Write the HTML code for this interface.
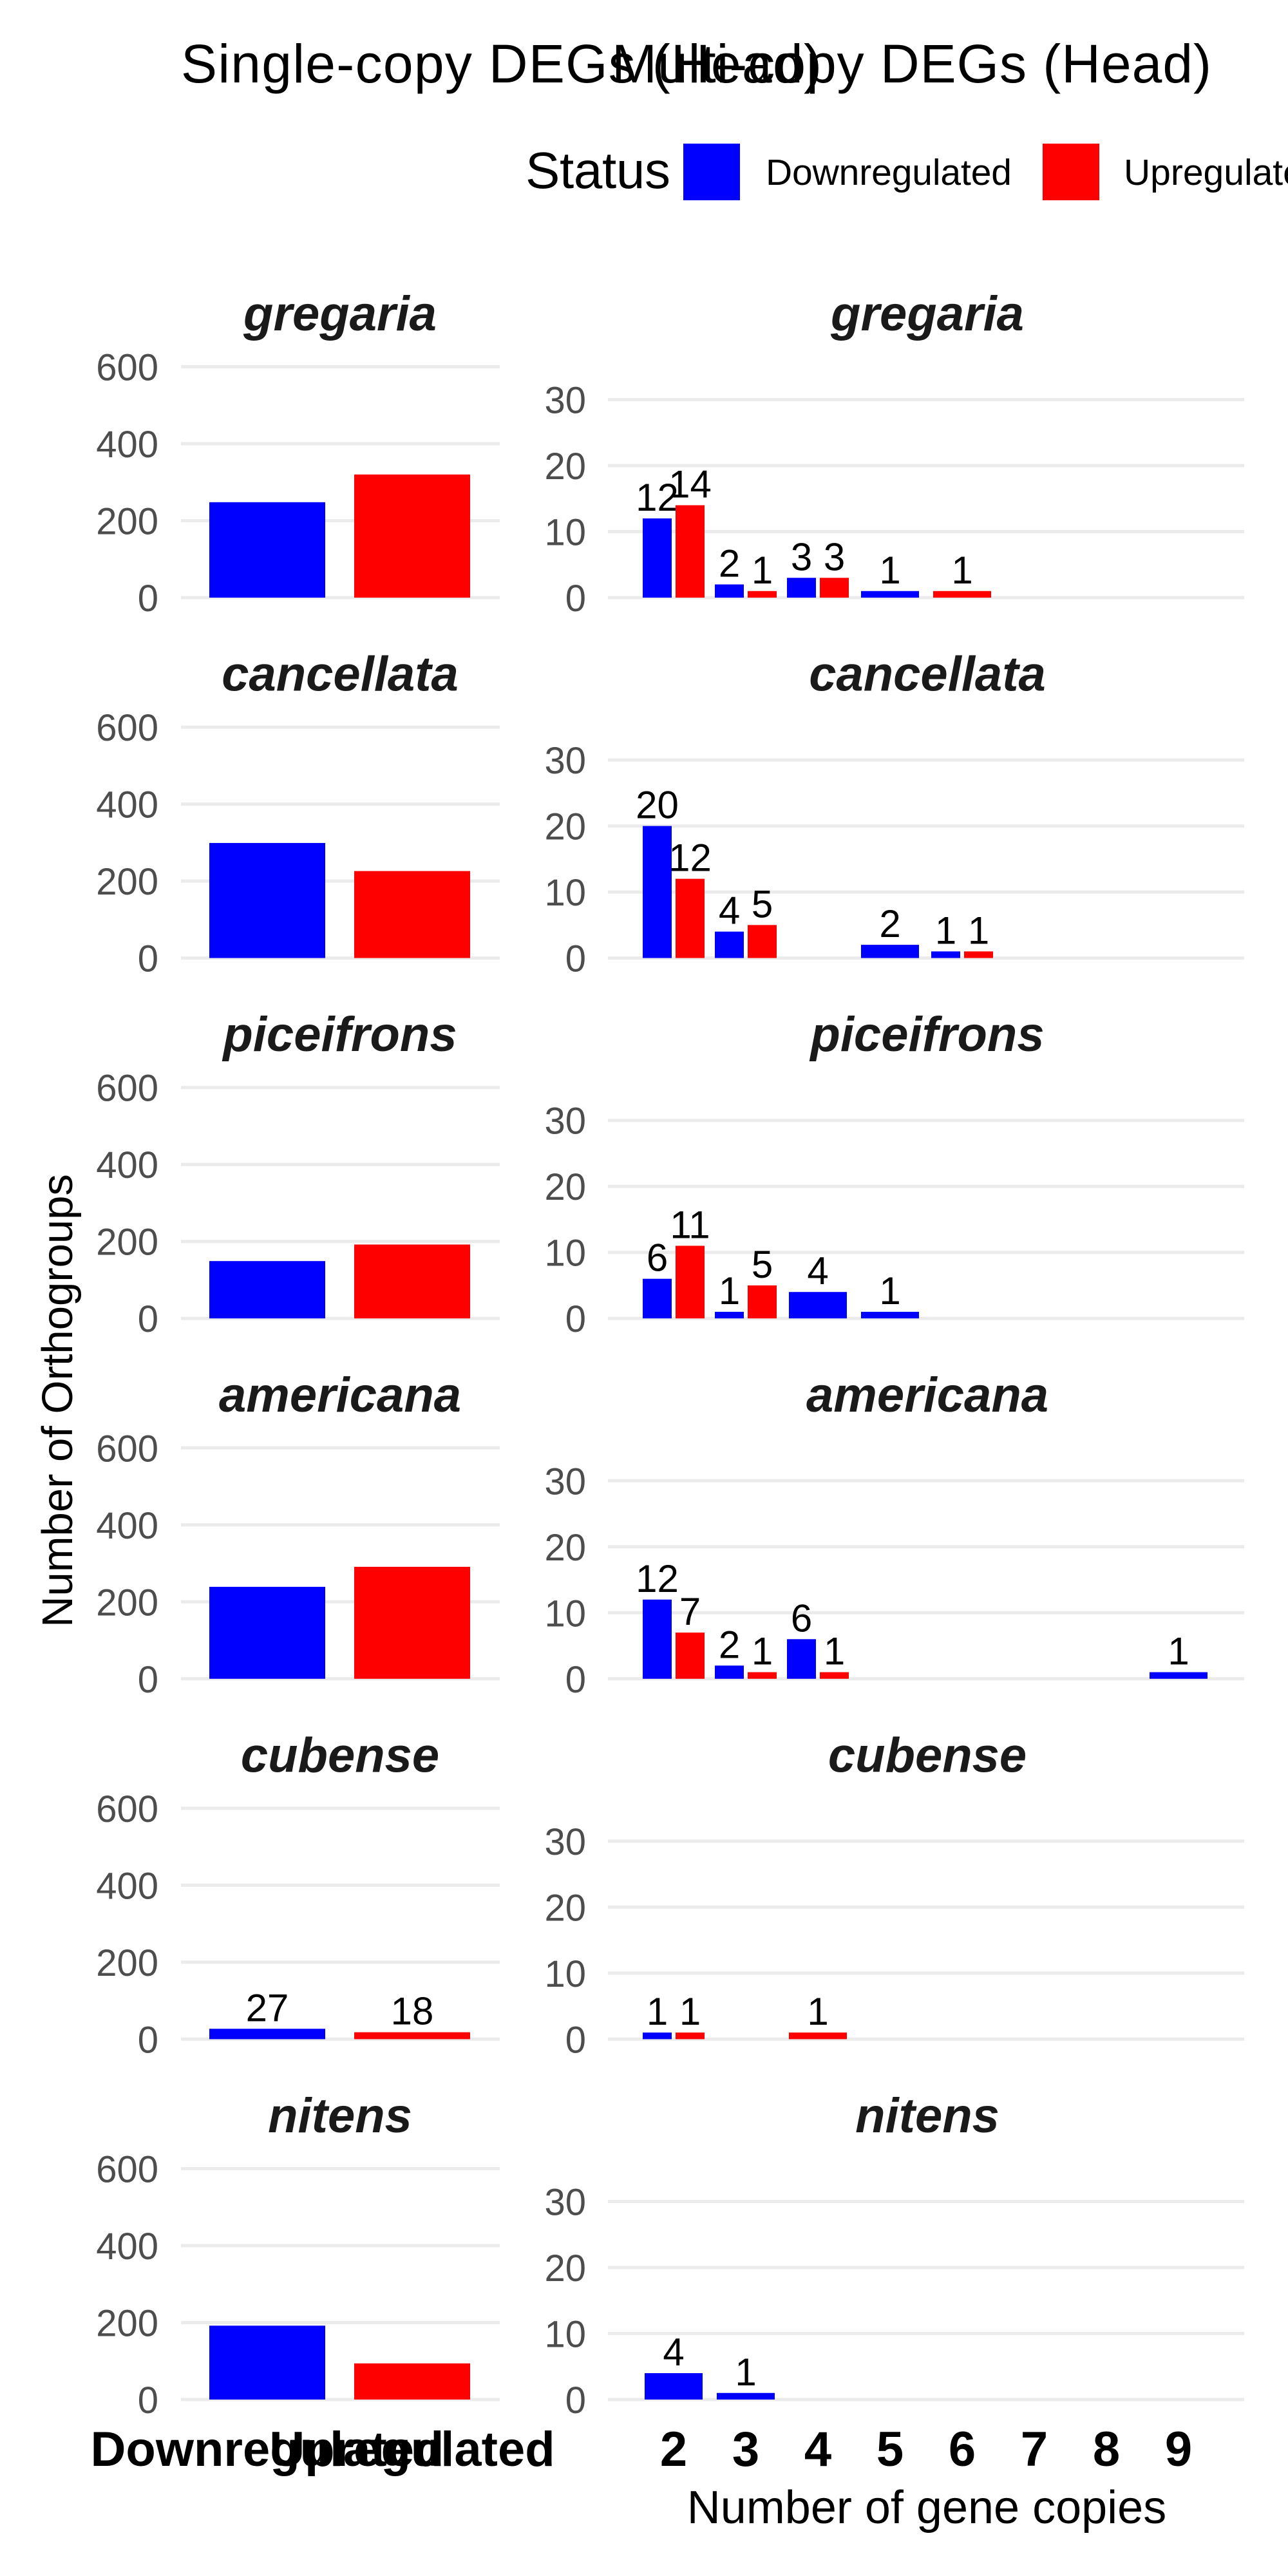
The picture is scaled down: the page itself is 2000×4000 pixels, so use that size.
<!DOCTYPE html>
<html><head><meta charset="utf-8"><style>
html,body{margin:0;padding:0;background:#fff;}
svg{display:block;font-family:"Liberation Sans",Arial,sans-serif;}
</style></head><body>
<svg id="chart" width="2000" height="4000" viewBox="0 0 2000 4000">
<text x="281" y="128" font-size="84" fill="#000" textLength="995">Single-copy DEGs (Head)</text>
<text x="950" y="128" font-size="84" fill="#000" textLength="931">Multi-copy DEGs (Head)</text>
<g>
<text x="816" y="292" font-size="80" fill="#000" textLength="225">Status</text>
<rect x="1061" y="223" width="88" height="88" fill="#0000ff"/>
<text x="1189" y="287" font-size="57" fill="#000" textLength="382">Downregulated</text>
<rect x="1619" y="223" width="88" height="88" fill="#ff0000"/>
<text x="1745" y="287" font-size="57" fill="#000">Upregulated</text>
</g>
<text transform="translate(112,2175) rotate(-90)" font-size="67" text-anchor="middle" fill="#000">Number of Orthogroups</text>
<text x="1439" y="3918" font-size="72" text-anchor="middle" fill="#000">Number of gene copies</text>
<g id="panels"></g>
</svg>
<script>
const species = ["gregaria","cancellata","piceifrons","americana","cubense","nitens"];
const singleDown = [248, 299, 149, 239, 27, 192];
const singleUp = [320, 226, 192, 291, 18, 94];
const singleLabelled = [false, false, false, false, true, false];
const copyCats = [2,3,4,5,6,7,8,9];
const multiDown = [
  {2:12,3:2,4:3,5:1},
  {2:20,3:4,5:2,6:1},
  {2:6,3:1,4:4,5:1},
  {2:12,3:2,4:6,9:1},
  {2:1},
  {2:4,3:1}
];
const multiUp = [
  {2:14,3:1,4:3,6:1},
  {2:12,3:5,6:1},
  {2:11,3:5},
  {2:7,3:1,4:1},
  {2:1,4:1},
  {}
];
const leftTicks = [0,200,400,600];
const rightTicks = [0,10,20,30];
const NS="http://www.w3.org/2000/svg";
const root=document.getElementById('panels');
function mk(tag,attrs,parent){const e=document.createElementNS(NS,tag);for(const k in attrs)e.setAttribute(k,attrs[k]);parent.appendChild(e);return e;}
const ROW0=928, ROWH=559.6;
function yLeft(v,base){return base - v*(358.5/600);}
function yRight(v,base){return base - v*10.25;}
function xCat(c){return 1046 + (c-2)*112;}
species.forEach((sp,i)=>{
  const base=ROW0+i*ROWH;
  const g=mk('g',{},root);
  
  
  const s1=mk('text',{x:528,y:base-415,'font-size':76,'font-weight':'bold','font-style':'italic','text-anchor':'middle',fill:'#1a1a1a'},g);
  s1.textContent=sp;
  
  
  const s2=mk('text',{x:1440,y:base-415,'font-size':76,'font-weight':'bold','font-style':'italic','text-anchor':'middle',fill:'#1a1a1a'},g);
  s2.textContent=sp;
  
  
  leftTicks.forEach(t=>{
    const y=yLeft(t,base);
    const l=mk('line',{x1:281,x2:776,y1:y,y2:y,stroke:'#ebebeb','stroke-width':5},g);
    
    
    const tx=mk('text',{x:246,y:y+21,'font-size':58,'text-anchor':'end',fill:'#4d4d4d'},g);
    tx.textContent=t;
    
    
  });
  rightTicks.forEach(t=>{
    const y=yRight(t,base);
    const l=mk('line',{x1:944,x2:1932,y1:y,y2:y,stroke:'#ebebeb','stroke-width':5},g);
    
    
    const tx=mk('text',{x:910,y:y+21,'font-size':58,'text-anchor':'end',fill:'#4d4d4d'},g);
    tx.textContent=t;
    
    
  });
  [[singleDown[i],415,'#0000ff','down'],[singleUp[i],640,'#ff0000','up']].forEach(([v,cx,col,nm])=>{
    const y=yLeft(v,base);
    const r=mk('rect',{x:cx-90,y:y,width:180,height:base-y,fill:col},g);
    
    
    if(singleLabelled[i]){
      const t=mk('text',{x:cx,y:y-12,'font-size':60,'text-anchor':'middle',fill:'#000'},g);
      t.textContent=v;
      
      
    }
  });
  copyCats.forEach(c=>{
    const d=multiDown[i][c], u=multiUp[i][c];
    const items=[];
    if(d!==undefined) items.push([d,'#0000ff','down']);
    if(u!==undefined) items.push([u,'#ff0000','up']);
    const cx=xCat(c);
    items.forEach((it,k)=>{
      let bx,bw;
      if(items.length===1){bw=90;bx=cx-45;}else{bw=45;bx=(k===0?cx-48:cx+3);}
      const y=yRight(it[0],base);
      const r=mk('rect',{x:bx,y:y,width:bw,height:base-y,fill:it[1]},g);
      
      
      const t=mk('text',{x:bx+bw/2,y:y-12,'font-size':60,'text-anchor':'middle',fill:'#000'},g);
      t.textContent=it[0];
      
      
    });
  });
});
const lastBase=ROW0+5*ROWH;
[["Downregulated",415],["Upregulated",640]].forEach(([s,x])=>{
  const t=mk('text',{x:x,y:lastBase+103,'font-size':76,'font-weight':'bold','text-anchor':'middle',fill:'#000'},root);
  t.textContent=s;
  
  
});
copyCats.forEach(c=>{
  const t=mk('text',{x:xCat(c),y:lastBase+103,'font-size':76,'font-weight':'bold','text-anchor':'middle',fill:'#000'},root);
  t.textContent=c;
  
  
});
</script>
</body></html>
